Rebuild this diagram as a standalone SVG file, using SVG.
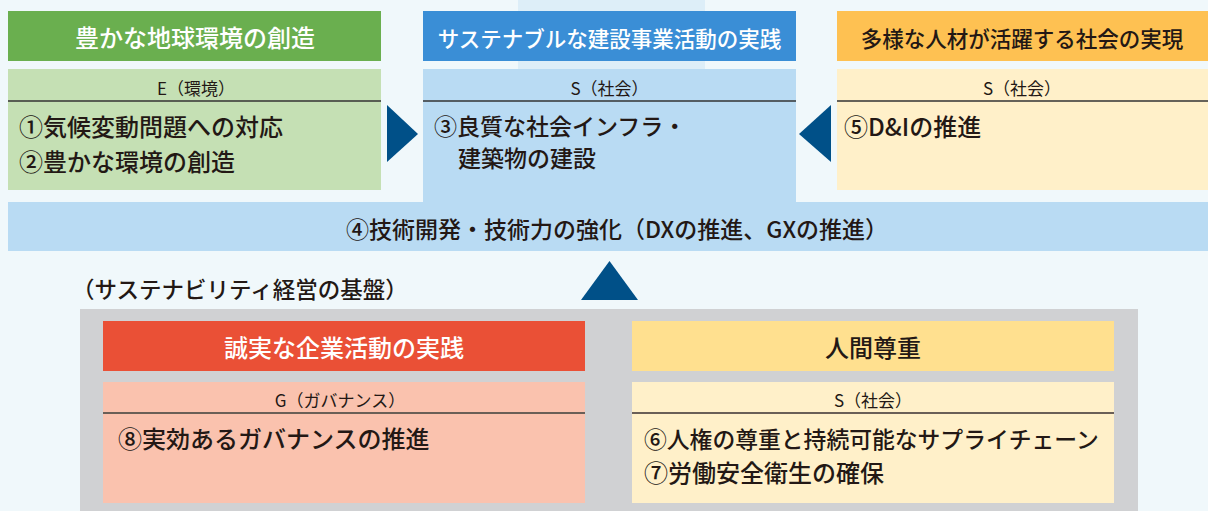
<svg xmlns="http://www.w3.org/2000/svg" width="1208" height="511" viewBox="0 0 1208 511">
<style>
text{font-family:"Noto Sans CJK JP","Noto Sans",sans-serif;fill:#231815}
.ttl{font-size:21.5px;font-weight:500;text-anchor:middle}
.w{fill:#ffffff}
.sub{font-size:17px;text-anchor:middle}
.item{font-size:24px;font-weight:500}
.rule{stroke:#333333;stroke-width:1.5}
.rule2{stroke:#6a5f57;stroke-width:2}
.arrow{fill:#005088}
</style>
<rect x="0" y="0" width="1208" height="511" fill="#f0f8fb"/>
<rect x="518" y="0" width="187" height="202" fill="#ddeef8"/>

<g id="node-environment">
<rect x="8" y="11" width="373" height="50" fill="#6aaf4f"/>
<text class="ttl w" x="195" y="47" style="font-size:24px">豊かな地球環境の創造</text>
<rect x="8" y="69" width="373" height="121" fill="#c5e0b4"/>
<text class="sub" x="196" y="95">E（環境）</text>
<line class="rule" x1="8" y1="101" x2="381" y2="101"/>
<text class="item" x="19" y="136">①気候変動問題への対応</text>
<text class="item" x="19" y="171">②豊かな環境の創造</text>
</g>

<g id="node-sustainable">
<rect x="423" y="11" width="373" height="50" fill="#3a8ed6"/>
<text class="ttl w" x="609.5" y="47">サステナブルな建設事業活動の実践</text>
<rect x="423" y="69" width="373" height="134" fill="#b9dbf3"/>
<text class="sub" x="609.5" y="95">S（社会）</text>
<line class="rule" x1="423" y1="101" x2="796" y2="101"/>
<text class="item" x="434" y="135" style="font-size:23px">③良質な社会インフラ・</text>
<text class="item" x="458" y="167" style="font-size:23px">建築物の建設</text>
</g>

<g id="node-diversity">
<rect x="837" y="11" width="371" height="50" fill="#fec152"/>
<text class="ttl" x="1022" y="47">多様な人材が活躍する社会の実現</text>
<rect x="837" y="69" width="371" height="121" fill="#fff0c9"/>
<text class="sub" x="1022" y="95">S（社会）</text>
<line class="rule" x1="837" y1="101" x2="1208" y2="101"/>
<text class="item" x="844" y="136">⑤D&amp;Iの推進</text>
</g>

<g id="node-technology">
<rect x="8" y="202" width="1200" height="49" fill="#b9dbf3"/>
<text class="item" x="346" y="238" style="font-size:23px">④技術開発・技術力の強化（DXの推進、GXの推進）</text>
</g>

<g id="node-foundation-label">
<text x="72" y="298" style="font-size:22.5px;font-weight:500">（サステナビリティ経営の基盤）</text>
</g>

<g id="node-foundation">
<rect x="80" y="309" width="1058" height="202" fill="#d0d1d3"/>
</g>

<g id="node-governance">
<rect x="103" y="321" width="482" height="50" fill="#ea5036"/>
<text class="ttl w" x="344" y="357" style="font-size:24px">誠実な企業活動の実践</text>
<rect x="103" y="382" width="482" height="121" fill="#fac2ae"/>
<text class="sub" x="340" y="407">G（ガバナンス）</text>
<line class="rule2" x1="103" y1="413" x2="585" y2="413"/>
<text class="item" x="118" y="448">⑧実効あるガバナンスの推進</text>
</g>

<g id="node-human">
<rect x="632" y="321" width="482" height="50" fill="#ffe08f"/>
<text class="ttl" x="873" y="357" style="font-size:24px">人間尊重</text>
<rect x="632" y="382" width="482" height="121" fill="#fff0c9"/>
<text class="sub" x="873" y="407">S（社会）</text>
<line class="rule2" x1="632" y1="413" x2="1114" y2="413"/>
<text class="item" x="644" y="448" style="font-size:22.8px">⑥人権の尊重と持続可能なサプライチェーン</text>
<text class="item" x="644" y="482">⑦労働安全衛生の確保</text>
</g>

<g id="connectors">
<polygon class="arrow" points="387,105 418,134 387,162"/>
<polygon class="arrow" points="831,105 799,134 831,162"/>
<polygon class="arrow" points="581,300 609.5,261 638,300"/>
</g>
</svg>
